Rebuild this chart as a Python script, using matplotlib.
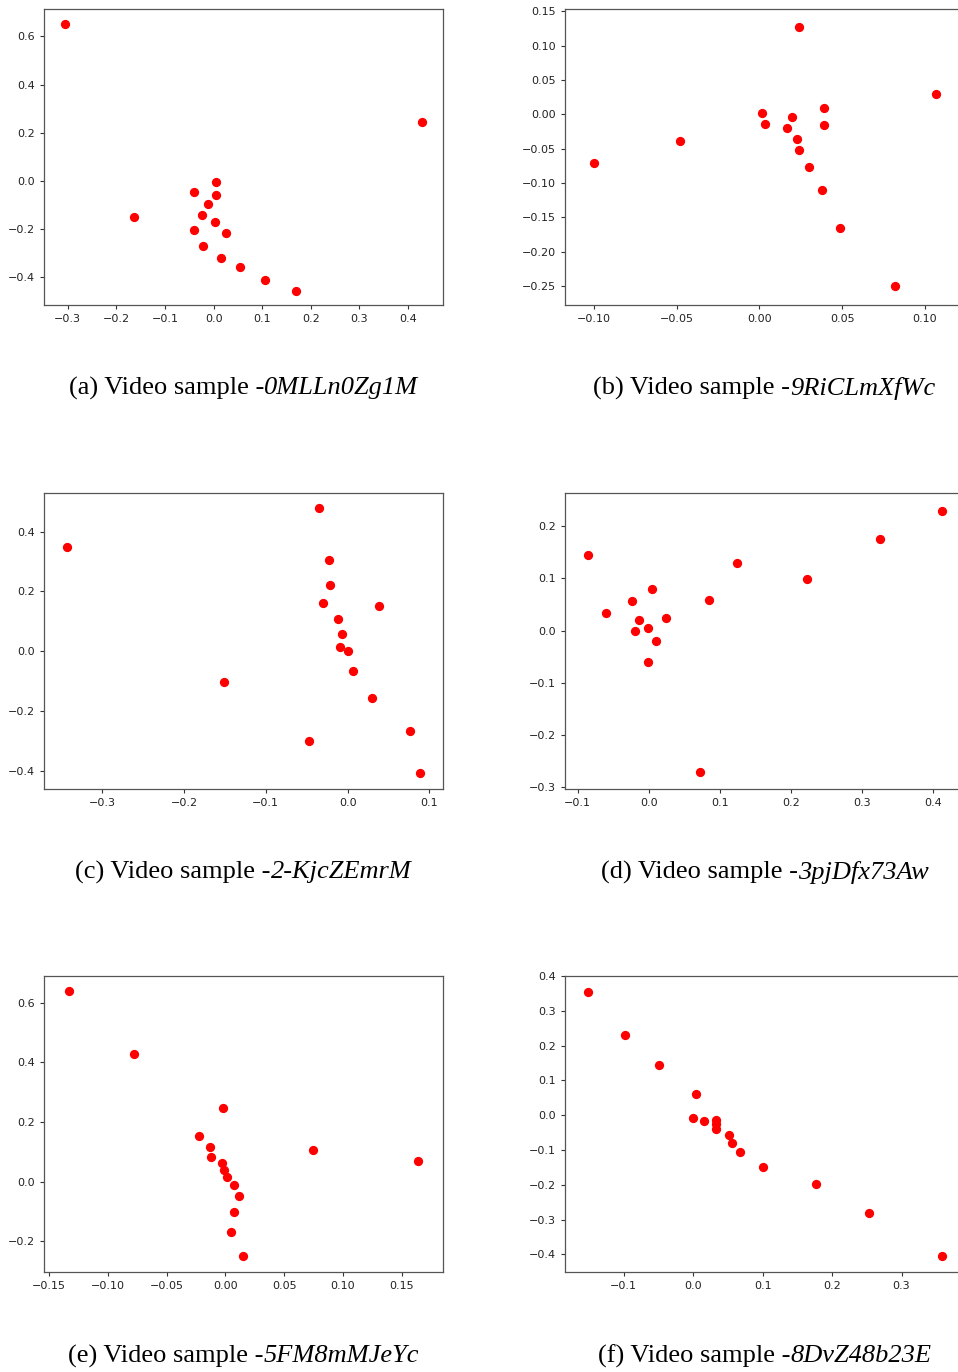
import matplotlib
matplotlib.use("Agg")
import matplotlib.pyplot as plt
from matplotlib.ticker import MultipleLocator

# embedding coordinates of the 16 frames for each clip
a_x = [-0.305, 0.429, -0.163, 0.004, -0.040, 0.004, -0.012, -0.024,
       0.003, -0.040, 0.025, -0.021, 0.015, 0.054, 0.105, 0.170]
a_y = [0.651, 0.243, -0.151, -0.006, -0.047, -0.059, -0.097, -0.140,
       -0.170, -0.203, -0.217, -0.271, -0.321, -0.357, -0.411, -0.455]

b_x = [0.0241, 0.1068, -0.1000, -0.0477, 0.0018, 0.0032, 0.0197, 0.0169,
       0.0388, 0.0392, 0.0227, 0.0241, 0.0300, 0.0378, 0.0485, 0.0819]
b_y = [0.1269, 0.0292, -0.0715, -0.0384, 0.0024, -0.0141, -0.0034, -0.0199,
       0.0097, -0.0151, -0.0365, -0.0515, -0.0763, -0.1104, -0.1653, -0.2509]

c_x = [-0.3424, -0.0347, -0.0232, -0.0220, -0.0302, 0.0379, -0.0122, -0.0065,
       -0.0094, 0.0004, 0.0061, -0.1508, 0.0302, -0.0469, 0.0762, 0.0881]
c_y = [0.3487, 0.4780, 0.3064, 0.2228, 0.1604, 0.1504, 0.1070, 0.0568,
       0.0156, 0.0000, -0.0669, -0.1025, -0.1582, -0.3008, -0.2663, -0.4078]

d_x = [-0.0855, -0.0597, -0.0235, 0.0046, -0.0132, -0.0189, -0.0015, 0.0243,
       0.0098, -0.0006, 0.0853, 0.1237, 0.2222, 0.3254, 0.4127, 0.0716]
d_y = [0.1452, 0.0344, 0.0561, 0.0803, 0.0204, -0.0013, 0.0051, 0.0236,
       -0.0197, -0.0592, 0.0586, 0.1293, 0.0987, 0.1758, 0.2293, -0.2701]

e_x = [-0.1331, -0.0775, -0.0017, -0.0224, -0.0128, -0.0122, -0.0031, -0.0009,
       0.0017, 0.0071, 0.0111, 0.0071, 0.0043, 0.0148, 0.0747, 0.1638]
e_y = [0.6375, 0.4273, 0.2470, 0.1524, 0.1146, 0.0823, 0.0612, 0.0401,
       0.0156, -0.0111, -0.0467, -0.1001, -0.1702, -0.2503, 0.1068, 0.0690]

f_x = [-0.1520, -0.0987, -0.0488, 0.0035, 0.0001, 0.0160, 0.0323, 0.0323,
       0.0323, 0.0510, 0.0558, 0.0673, 0.1005, 0.1764, 0.2527, 0.3584]
f_y = [0.3532, 0.2310, 0.1432, 0.0601, -0.0086, -0.0153, -0.0143, -0.0248,
       -0.0391, -0.0573, -0.0811, -0.1060, -0.1480, -0.1986, -0.2816, -0.4057]

labels = ["a", "b", "c", "d", "e", "f"]
video_ids = ["0MLLn0Zg1M", "9RiCLmXfWc", "2-KjcZEmrM",
             "3pjDfx73Aw", "5FM8mMJeYc", "8DvZ48b23E"]

W, H = 958, 1372
fig = plt.figure(figsize=(W / 100, H / 100), dpi=100)
renderer = fig.canvas.get_renderer()

panels = [(a_x, a_y), (b_x, b_y), (c_x, c_y), (d_x, d_y), (e_x, e_y), (f_x, f_y)]
xlims = [(-0.349, 0.472), (-0.1173, 0.1235), (-0.371, 0.1166),
         (-0.1178, 0.4436), (-0.1544, 0.1851), (-0.1847, 0.390)]
ylims = [(-0.515, 0.714), (-0.278, 0.1536), (-0.461, 0.529),
         (-0.303, 0.263), (-0.3026, 0.689), (-0.4506, 0.400)]
steps = [(0.1, 0.2), (0.05, 0.05), (0.1, 0.2), (0.1, 0.1), (0.05, 0.2), (0.1, 0.1)]

col_left = [44, 565]
row_top = [9, 493, 976]
ax_w, ax_h = 399, 296
caption_y = [388, 872, 1356]


def caption(cx, cy, plain, ital):
    # upright prefix followed by the italic clip id, centred as one line
    t1 = fig.text(0, cy, plain, ha="left", va="center", fontsize=19,
                  family="Liberation Serif")
    t2 = fig.text(0, cy, ital, ha="left", va="center", fontsize=19,
                  family="Liberation Serif", style="italic")
    w1 = t1.get_window_extent(renderer).width
    w2 = t2.get_window_extent(renderer).width
    x0 = cx - (w1 + w2) / 2
    t1.set_x(x0 / W)
    t2.set_x((x0 + w1) / W)


for i, (xs, ys) in enumerate(panels):
    row, col = i // 2, i % 2
    left = col_left[col]
    top = row_top[row]
    ax = fig.add_axes([left / W, (H - top - ax_h) / H, ax_w / W, ax_h / H])
    ax.scatter(xs, ys, s=32, c="red", zorder=3)
    ax.set_xlim(*xlims[i])
    ax.set_ylim(*ylims[i])
    ax.xaxis.set_major_locator(MultipleLocator(steps[i][0]))
    ax.yaxis.set_major_locator(MultipleLocator(steps[i][1]))
    ax.tick_params(labelsize=8, length=3, width=0.8, colors="#333333",
                   labelcolor="#222222")
    for sp in ax.spines.values():
        sp.set_color("#555555")
        sp.set_linewidth(0.9)

    caption(left + ax_w / 2, 1 - caption_y[row] / H,
            "(%s) Video sample -" % labels[i], video_ids[i])

fig.savefig("out.png", dpi=100)
